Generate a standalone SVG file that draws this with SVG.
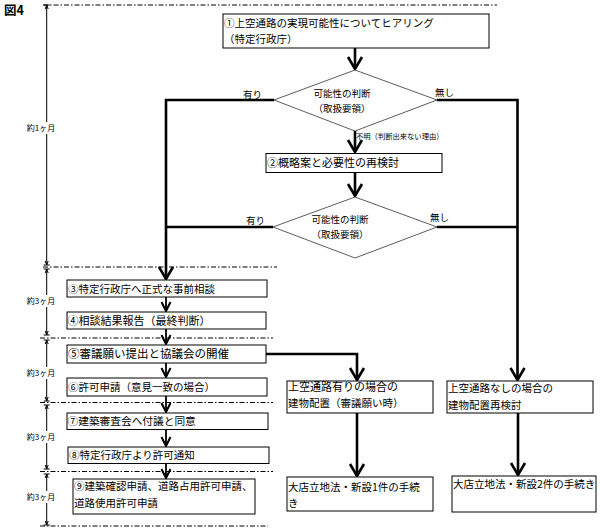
<svg xmlns="http://www.w3.org/2000/svg" width="600" height="530" viewBox="0 0 600 530">
<defs>
<path id="chevBig" d="M-7,-12 L0,0 L7,-12" fill="none" stroke="#000" stroke-width="2.6" stroke-linejoin="miter"/>
<path id="chevSm" d="M-4.5,-9 L0,0 L4.5,-9" fill="none" stroke="#000" stroke-width="2" stroke-linejoin="miter"/>
</defs>
<style>
text{font-family:"Noto Sans CJK JP","Liberation Sans",sans-serif;fill:#000}
.t{font-size:10.5px}
.d{font-size:9.5px}
.s{font-size:8px}
.box{fill:#fff;stroke:#000;stroke-width:1}
.dia{fill:#fff;stroke:#333;stroke-width:0.8}
.dd{stroke:#000;stroke-width:1;stroke-dasharray:5 2 1.5 2;fill:none}
.tl{stroke:#000;stroke-width:1;fill:none}
.thk{stroke:#000;stroke-width:2.6;fill:none}
.mid{stroke:#000;stroke-width:1.8;fill:none}
</style>
<rect width="600" height="530" fill="#fff"/>
<text x="4" y="15" style="font-size:12.5px;font-weight:bold">図4</text>

<g id="timeline">
<line class="dd" x1="43" y1="5" x2="497" y2="5"/>
<line class="dd" x1="43" y1="267" x2="277" y2="267"/>
<line class="dd" x1="40" y1="338" x2="273" y2="338"/>
<line class="dd" x1="40" y1="402.5" x2="273" y2="402.5"/>
<line class="dd" x1="40" y1="471.5" x2="273" y2="471.5"/>
<line class="dd" x1="40" y1="526" x2="268" y2="526"/>
<path class="tl" d="M46.7,5V265 M46.7,269V335 M46.7,340V401 M46.7,405V469 M46.7,474V525"/>
<path class="tl" d="M43.7,5H49.7 M43.7,265H49.7 M43.7,269H49.7 M43.7,335H49.7 M43.7,340H49.7 M43.7,401H49.7 M43.7,405H49.7 M43.7,469H49.7 M43.7,474H49.7 M43.7,525H49.7"/>
<path class="tl" d="M45.2,9L46.7,5L48.2,9 M45.2,261L46.7,265L48.2,261 M45.2,273L46.7,269L48.2,273 M45.2,331L46.7,335L48.2,331 M45.2,344L46.7,340L48.2,344 M45.2,397L46.7,401L48.2,397 M45.2,409L46.7,405L48.2,409 M45.2,465L46.7,469L48.2,465 M45.2,478L46.7,474L48.2,478 M45.2,521L46.7,525L48.2,521"/>
<rect x="27" y="122" width="28" height="12" fill="#fff"/>
<rect x="27" y="295" width="28" height="12" fill="#fff"/>
<rect x="27" y="367" width="28" height="12" fill="#fff"/>
<rect x="27" y="431" width="28" height="12" fill="#fff"/>
<rect x="27" y="491" width="28" height="12" fill="#fff"/>
<text class="s" x="41" y="131" text-anchor="middle">約1ヶ月</text>
<text class="s" x="41" y="304" text-anchor="middle">約3ヶ月</text>
<text class="s" x="41" y="376" text-anchor="middle">約3ヶ月</text>
<text class="s" x="41" y="440" text-anchor="middle">約3ヶ月</text>
<text class="s" x="41" y="500" text-anchor="middle">約3ヶ月</text>
</g>

<g id="connectors">
<path class="thk" d="M355,48V69"/>
<use href="#chevBig" x="355" y="69"/>
<path class="thk" d="M355,131V152"/>
<use href="#chevBig" x="355" y="152"/>
<path class="thk" d="M355,172.5V196"/>
<use href="#chevBig" x="355" y="196"/>
<path class="thk" d="M274,100H166V279"/>
<use href="#chevBig" x="166" y="279"/>
<path class="thk" d="M273,227H166"/>
<path class="thk" d="M437,100H517.5V380"/>
<use href="#chevBig" x="517.5" y="380"/>
<path class="thk" d="M437,227H517.5"/>
<path class="mid" d="M166,297V311"/>
<use href="#chevSm" x="166" y="311"/>
<path class="mid" d="M166,329V344"/>
<use href="#chevSm" x="166" y="344"/>
<path class="mid" d="M166,363V377"/>
<use href="#chevSm" x="166" y="377"/>
<path class="mid" d="M166,396V412"/>
<use href="#chevSm" x="166" y="412"/>
<path class="mid" d="M166,429V446"/>
<use href="#chevSm" x="166" y="446"/>
<path class="mid" d="M166,463.5V478"/>
<use href="#chevSm" x="166" y="478"/>
<path class="thk" d="M266,354H357V380"/>
<use href="#chevBig" x="357" y="380"/>
<path class="thk" d="M357,413V476"/>
<use href="#chevBig" x="357" y="476"/>
<path class="thk" d="M518,413V475"/>
<use href="#chevBig" x="518" y="475"/>
<text class="d" x="243" y="97.5">有り</text>
<text class="d" x="435" y="95.5">無し</text>
<text class="d" x="246" y="223.5">有り</text>
<text class="d" x="430" y="221">無し</text>
<text x="356" y="139" style="font-size:7.3px">不明（判断出来ない理由）</text>
</g>

<g id="n1">
<rect class="box" x="223" y="14" width="266" height="34"/>
<text class="t" x="224" y="26.5">①上空通路の実現可能性についてヒアリング</text>
<text class="t" x="224" y="43">（特定行政庁）</text>
</g>
<g id="d1">
<polygon class="dia" points="355,70 437,100 355,131 274,100"/>
<text class="d" x="342" y="96.5" text-anchor="middle">可能性の判断</text>
<text class="d" x="342" y="111.5" text-anchor="middle">（取扱要領）</text>
</g>
<g id="n2">
<rect class="box" x="266" y="153.5" width="176" height="19"/>
<text x="267" y="167.2" style="font-size:11px">②概略案と必要性の再検討</text>
</g>
<g id="d2">
<polygon class="dia" points="355,197 437,227 355,258 273,227"/>
<text class="d" x="340" y="222.5" text-anchor="middle">可能性の判断</text>
<text class="d" x="340" y="238" text-anchor="middle">（取扱要領）</text>
</g>
<g id="n3">
<rect class="box" x="67" y="280" width="200" height="17"/>
<text class="t" x="68" y="292.5">③特定行政庁へ正式な事前相談</text>
</g>
<g id="n4">
<rect class="box" x="67" y="312" width="199" height="17"/>
<text x="67.5" y="324.5" style="font-size:11px">④相談結果報告（最終判断）</text>
</g>
<g id="n5">
<rect class="box" x="67" y="345" width="199" height="18"/>
<text x="68" y="358.2" style="font-size:11.5px">⑤審議願い提出と協議会の開催</text>
</g>
<g id="n6">
<rect class="box" x="67" y="378" width="200" height="18"/>
<text class="t" x="68" y="390.8">⑥許可申請（意見一致の場合）</text>
</g>
<g id="n7">
<rect class="box" x="67" y="413" width="201" height="16.5"/>
<text x="67.5" y="425" style="font-size:10.7px">⑦建築審査会へ付議と同意</text>
</g>
<g id="n8">
<rect class="box" x="68" y="447" width="201" height="16.5"/>
<text class="t" x="69" y="459">⑧特定行政庁より許可通知</text>
</g>
<g id="n9">
<rect class="box" x="73" y="479" width="182" height="35"/>
<text class="t" x="74" y="490">⑨建築確認申請、道路占用許可申請、</text>
<text class="t" x="74" y="507">道路使用許可申請</text>
</g>
<g id="nA">
<rect class="box" x="287" y="381" width="146" height="32"/>
<text x="288" y="390.7" style="font-size:11px">上空通路有りの場合の</text>
<text x="288" y="407.3" style="font-size:10.5px">建物配置（審議願い時）</text>
</g>
<g id="nB">
<rect class="box" x="287" y="477" width="146" height="34"/>
<text class="t" x="288" y="490.5">大店立地法・新設1件の手続</text>
<text class="t" x="288" y="507">き</text>
</g>
<g id="nC">
<rect class="box" x="447" y="381" width="146" height="32"/>
<text class="t" x="448" y="392">上空通路なしの場合の</text>
<text class="t" x="448" y="408.7">建物配置再検討</text>
</g>
<g id="nD">
<rect class="box" x="452" y="476" width="144" height="36"/>
<text class="t" x="453" y="488">大店立地法・新設2件の手続き</text>
</g>
</svg>
